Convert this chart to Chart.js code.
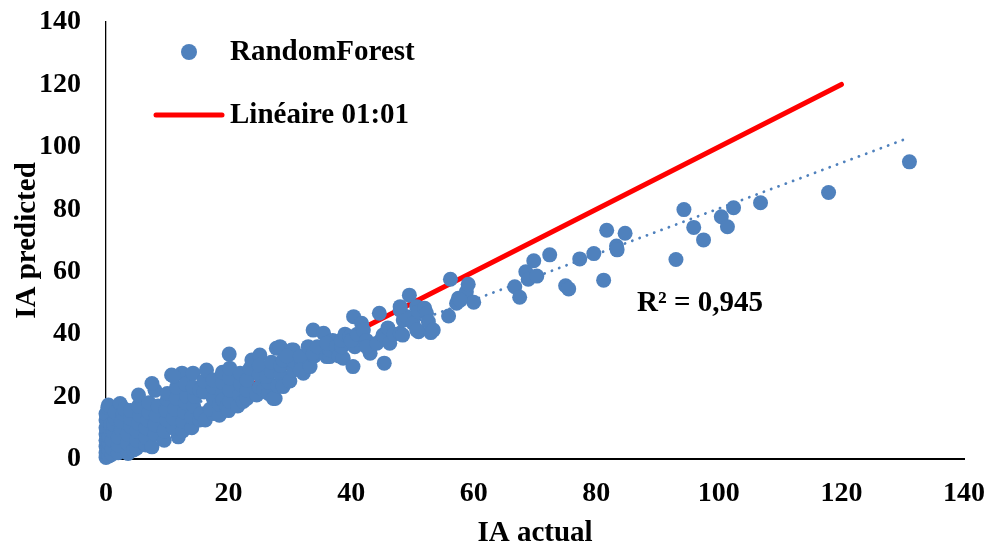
<!DOCTYPE html>
<html>
<head>
<meta charset="utf-8">
<script src="https://cdn.jsdelivr.net/npm/chart.js@4.4.1/dist/chart.umd.min.js"></script>
<style>
  html, body { margin: 0; padding: 0; background: #fff; }
  #wrap { width: 992px; height: 549px; position: relative; }
</style>
</head>
<body>
<div id="wrap"><canvas id="scatterChart"></canvas></div>
<script>
// IA actual (x) vs IA predicted (y)
const actualX = [
  0, 0, 0, 0, 0, 0, 0, 0, 0.3, 0.5, 0.5, 0.5, 0.5, 0.8, 0.8, 0.4,
  1, 1, 1, 1.2, 1.3, 1.5, 1.5, 2.3,
  2, 2, 2, 2.5, 2.5, 2.8, 3,
  3.6, 3.5, 3.5, 4, 4, 4, 4.5,
  5, 5, 5, 5.3, 5.5, 5.3, 5.3,
  6.5, 6.5, 6.5, 6.8, 7, 7,
  7.5, 8, 8, 8.2, 8.5, 8, 7.5,
  9.5, 9.5, 9.9, 9.8, 10, 10,
  11.8, 11, 11, 11.2, 11.5, 11.5, 10.7, 12.4, 11,
  12.5, 12.5, 12.8, 13, 13.2, 13,
  14, 14, 14.3, 14.5, 14.2, 14.2,
  15.3, 15.5, 15.3, 16, 16, 16.4, 16.2,
  17.5, 17, 17.5, 17.5, 17.5,
  18.5, 18.5, 19, 19, 19, 19.1, 19.7,
  20, 20.2, 20.2, 20.2, 20.1, 20.2,
  21.5, 21.8, 22, 21.9, 22.4,
  23, 23, 23, 23.5, 23.8,
  24.6, 25, 25.7, 25, 25.1, 25,
  26.5, 26.5, 26.2, 27, 27,
  27.6, 27.3, 28, 28.5, 28.5, 27.8,
  28.9, 28.9, 28.9, 28.4,
  30, 30.6, 30.5, 30.6, 30.3, 29.5,
  32.2, 32, 32.5, 31.7, 33, 31.7,
  33.3, 34, 33.8, 34.5, 33.8, 35.5,
  36, 36.5, 36.5, 37, 36, 37.6,
  38, 38.7, 38.5, 38.4, 39, 39.8,
  40.3, 40.6, 40, 40.4, 41,
  41.7, 42, 42.5, 43.1, 42.5,
  44.2, 44.6, 45.2, 45.4, 46.3, 46, 47,
  48, 48, 48.5, 48.4, 49.1, 49.5, 50.1, 50.7, 48,
  51, 51, 52, 52.3, 52.6, 53, 53.4, 50.7,
  55.9, 56.2, 57.2, 57.5, 58.8, 59.1, 60, 57.8,
  66.7, 67.5, 68.5, 68.9, 69.8, 70.3, 72.4, 75, 75.5, 77.3,
  79.6, 81.2, 81.7, 83.3, 83.4, 84.7,
  93, 94.3, 95.9, 97.5, 100.4, 101.4, 102.4, 106.8, 117.9, 131.1
];
const predictedY = [
  0.5, 2, 4, 6, 8, 10, 12.5, 14.5, 16.5, 1, 3, 5, 7, 9, 11, 17.3,
  1.5, 3.5, 6, 8.5, 11, 13, 15, 17.8,
  2, 4.5, 7, 9.5, 12, 14.5, 16,
  1.8, 5, 8, 10.5, 13, 15.5, 2.9,
  3.5, 6, 9, 11.5, 14, 17, 20.5,
  4.5, 7, 10, 12.5, 15, 18,
  3.9, 8, 11, 14, 17, 22, 24.2,
  6, 9, 12.5, 15.5, 19, 21,
  7.1, 10, 13, 16, 19.5, 23, 26.9, 27.5, 26.6,
  9, 12, 15, 18, 20, 24,
  10, 13.5, 17, 20, 23, 27.5,
  12.5, 14.5, 22.1, 21.5, 25, 28.5, 12.5,
  14.6, 16, 19.5, 23, 25.3,
  14, 17.5, 21, 24.5, 27.8, 18.9, 16.8,
  15.5, 18.5, 22.1, 26, 33.6, 29.1,
  17, 20.5, 24, 27.5, 18.4,
  19.4, 22, 25.3, 29, 31.7,
  20.5, 23, 22.1, 27, 33.3, 30,
  21, 24.5, 26.4, 28, 31,
  19.4, 19.4, 23.5, 27, 30, 35.5,
  23.7, 23.2, 31.7, 36,
  25, 28.5, 31.5, 34.9, 34.9, 33,
  27.5, 30.5, 33, 32.8, 36, 28.5,
  29.6, 33, 33.9, 36, 41.3, 40.3,
  32.8, 32.8, 35, 38, 37.1, 36,
  33, 32.3, 36, 38.1, 40, 39.2,
  29.6, 36, 38, 45.6, 40,
  43.5, 41.3, 38, 33.9, 36,
  37.1, 46.7, 39.7, 30.7, 37.1, 42, 40,
  40.3, 47.7, 44.5, 39.7, 45.6, 52.5, 43.5, 48.8, 48.8,
  47.2, 40.8, 48.3, 46.7, 44, 40.5, 41.3, 41.3,
  45.8, 57.6, 49.9, 51.5, 53.6, 56, 50.2, 50.9,
  55.2, 51.8, 60, 57.6, 63.5, 58.6, 65.4, 55.5, 54.5, 64.1,
  65.8, 57.3, 73.3, 68.2, 67, 72.3,
  63.9, 79.9, 74.2, 70.2, 77.6, 74.4, 80.5, 82.1, 85.4, 95.2
];

// 1:1 reference line and linear trend (R² = 0,945)
const oneToOneX = [0, 120];
const oneToOneY = [0, 120];
const trendX = [0, 131];
const trendY = [7.1, 102.9];

const axisTicks = [0, 20, 40, 60, 80, 100, 120, 140];
const r2Label = 'R² = 0,945';

const blue = '#4F81BD';
const red = '#FF0000';
const serifFamily = '"Liberation Serif", "Times New Roman", serif';
const tickFont = { family: serifFamily, size: 28, weight: 'bold' };
const titleFont = { family: serifFamily, size: 29, weight: 'bold' };

const toPoints = (xs, ys) => xs.map((x, i) => ({ x: x, y: ys[i] }));

// legend + R² label drawn in the plot area
const overlayPlugin = {
    id: 'overlay',
    afterDraw(chart) {
        const ctx = chart.ctx;
        const ds = chart.data.datasets;
        ctx.save();
        ctx.font = 'bold 29px ' + serifFamily;
        ctx.textBaseline = 'middle';
        ctx.textAlign = 'left';

        ctx.fillStyle = blue;
        ctx.beginPath();
        ctx.arc(189, 52, 8, 0, Math.PI * 2);
        ctx.fill();
        ctx.fillStyle = '#000';
        ctx.fillText(ds[0].label, 230, 53);

        ctx.strokeStyle = red;
        ctx.lineWidth = 5;
        ctx.lineCap = 'round';
        ctx.beginPath();
        ctx.moveTo(156, 115);
        ctx.lineTo(222, 115);
        ctx.stroke();
        ctx.fillText(ds[1].label, 230, 116);

        ctx.fillText(r2Label, 637, 304);
        ctx.restore();
    }
};

const ctx = document.getElementById('scatterChart').getContext('2d');
new Chart(ctx, {
    type: 'scatter',
    data: {
        datasets: [{
            label: 'RandomForest',
            data: toPoints(actualX, predictedY),
            backgroundColor: blue,
            borderColor: blue,
            borderWidth: 0,
            pointRadius: 7.5,
            clip: false,
            order: 0
        }, {
            label: 'Linéaire 01:01',
            type: 'line',
            data: toPoints(oneToOneX, oneToOneY),
            borderColor: red,
            borderWidth: 5,
            borderCapStyle: 'round',
            pointRadius: 0,
            fill: false,
            clip: false,
            order: 2
        }, {
            label: 'Linéaire (RandomForest)',
            type: 'line',
            data: toPoints(trendX, trendY),
            borderColor: blue,
            borderWidth: 2.8,
            borderDash: [0.1, 7.7],
            borderCapStyle: 'round',
            pointRadius: 0,
            fill: false,
            clip: false,
            order: 1
        }]
    },
    options: {
        responsive: true,
        maintainAspectRatio: false,
        animation: false,
        layout: {
            padding: { top: 22, right: 28, bottom: 0, left: 0 }
        },
        scales: {
            x: {
                type: 'linear',
                min: 0,
                max: 140,
                afterBuildTicks: (scale) => { scale.ticks = axisTicks.map(v => ({ value: v })); },
                afterFit: (scale) => {
                    scale.height = 90;
                    scale.paddingLeft = 0;
                    scale.paddingRight = 0;
                },
                grid: { display: false, drawTicks: false },
                border: { display: true, color: '#000', width: 2 },
                ticks: { color: '#000', font: tickFont, padding: 18, maxRotation: 0 },
                title: {
                    display: true,
                    text: 'IA actual',
                    color: '#000',
                    font: titleFont,
                    padding: { top: 0, bottom: -2 }
                }
            },
            y: {
                type: 'linear',
                min: 0,
                max: 140,
                afterBuildTicks: (scale) => { scale.ticks = axisTicks.map(v => ({ value: v })); },
                afterFit: (scale) => {
                    scale.width = 106;
                    scale.paddingTop = 0;
                    scale.paddingBottom = 0;
                },
                grid: { display: false, drawTicks: false },
                border: { display: true, color: '#000', width: 1.3 },
                ticks: { color: '#000', font: tickFont, padding: 25 },
                title: {
                    display: true,
                    text: 'IA predicted',
                    color: '#000',
                    font: titleFont,
                    padding: { top: 10, bottom: 0 }
                }
            }
        },
        plugins: {
            legend: { display: false },
            tooltip: { enabled: false }
        }
    },
    plugins: [overlayPlugin]
});
</script>
</body>
</html>
